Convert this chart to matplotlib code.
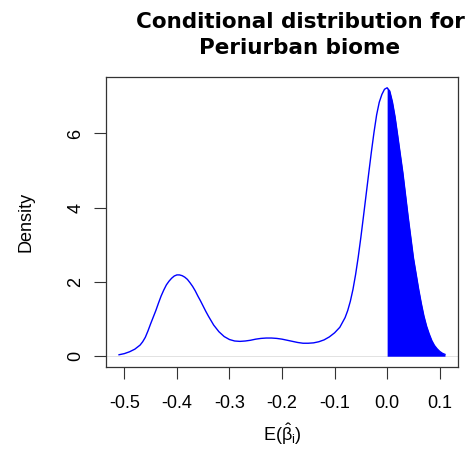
import numpy as np
import matplotlib
matplotlib.use('Agg')
import matplotlib.pyplot as plt

# 密度曲线
beta = [-0.51, -0.50, -0.49, -0.48, -0.47, -0.465, -0.46, -0.455, -0.45, -0.445,
        -0.44, -0.435, -0.43, -0.425, -0.42, -0.415, -0.41, -0.405, -0.40, -0.395,
        -0.39, -0.385, -0.38, -0.375, -0.37, -0.365, -0.36, -0.355, -0.35, -0.345,
        -0.34, -0.335, -0.33, -0.32, -0.31, -0.30, -0.29, -0.28, -0.27, -0.26,
        -0.25, -0.24, -0.23, -0.22, -0.21, -0.20, -0.19, -0.18, -0.17, -0.16,
        -0.15, -0.14, -0.13, -0.12, -0.11, -0.10, -0.09, -0.08, -0.075, -0.07,
        -0.065, -0.06, -0.055, -0.05, -0.045, -0.04, -0.035, -0.03, -0.025, -0.02,
        -0.015, -0.01, -0.005, 0.00, 0.005, 0.01, 0.015, 0.02, 0.03, 0.04,
        0.05, 0.06, 0.065, 0.07, 0.075, 0.08, 0.085, 0.09, 0.095, 0.10,
        0.105, 0.11]
density = [0.04, 0.07, 0.12, 0.19, 0.30, 0.39, 0.51, 0.68, 0.87, 1.05,
           1.23, 1.43, 1.62, 1.78, 1.92, 2.02, 2.10, 2.16, 2.19, 2.19,
           2.17, 2.13, 2.07, 1.98, 1.88, 1.76, 1.62, 1.49, 1.35, 1.21,
           1.08, 0.96, 0.84, 0.66, 0.53, 0.45, 0.41, 0.40, 0.41, 0.43,
           0.46, 0.48, 0.49, 0.49, 0.48, 0.46, 0.43, 0.40, 0.37, 0.35,
           0.35, 0.36, 0.39, 0.44, 0.52, 0.63, 0.78, 1.04, 1.23, 1.48,
           1.80, 2.20, 2.67, 3.20, 3.77, 4.35, 4.93, 5.50, 6.03, 6.50,
           6.84, 7.05, 7.19, 7.23, 7.14, 6.85, 6.45, 5.95, 4.93, 3.75,
           2.65, 1.80, 1.42, 1.08, 0.81, 0.60, 0.42, 0.29, 0.20, 0.13,
           0.08, 0.05]

x_ticks = [-0.5, -0.4, -0.3, -0.2, -0.1, 0.0, 0.1]
x_tick_labels = ['-0.5', '-0.4', '-0.3', '-0.2', '-0.1', '0.0', '0.1']
y_ticks = [0, 2, 4, 6]

plt.rcParams['font.family'] = ['Liberation Sans', 'DejaVu Sans']
plt.rcParams['mathtext.fontset'] = 'custom'
plt.rcParams['mathtext.rm'] = 'Liberation Sans'
plt.rcParams['mathtext.it'] = 'Liberation Sans'

x = np.array(beta)
y = np.array(density)

fig = plt.figure(figsize=(4.72, 4.61), dpi=100)
ax = fig.add_axes([106 / 472, 1 - 367 / 461, (458 - 106) / 472, (367 - 77) / 461])

# 零线
ax.axhline(0, color='#dddddd', lw=0.6, zorder=1)
ax.plot(x, y, color='#0000ff', lw=1.0, zorder=3)
ax.fill_between(x, 0, y, where=x >= 0, color='#0000ff', lw=0, zorder=2)

ax.set_xlim(-0.5348, 0.1348)
ax.set_ylim(-0.29, 7.52)
ax.set_xticks(x_ticks)
ax.set_xticklabels(x_tick_labels)
ax.set_yticks(y_ticks)
ax.set_yticklabels([str(v) for v in y_ticks], rotation=90, va='center')
ax.tick_params(direction='out', length=8.5, width=0.8, labelsize=13, color='#333333')
ax.tick_params(axis='x', pad=12)
ax.tick_params(axis='y', pad=7)
for s in ax.spines.values():
    s.set_linewidth(0.9)
    s.set_color('#333333')

ax.set_xlabel(r'$\mathrm{E}(\hat{\beta}_\mathrm{i})$', fontsize=13, labelpad=6)
ax.set_ylabel('Density', fontsize=13, labelpad=24)

fig.text(300 / 472, 1 - 35 / 461, 'Conditional distribution for\nPeriurban biome',
         ha='center', va='center', fontsize=15.5, fontweight='bold',
         family='DejaVu Sans', linespacing=1.35)

fig.savefig('out.png', dpi=100)
